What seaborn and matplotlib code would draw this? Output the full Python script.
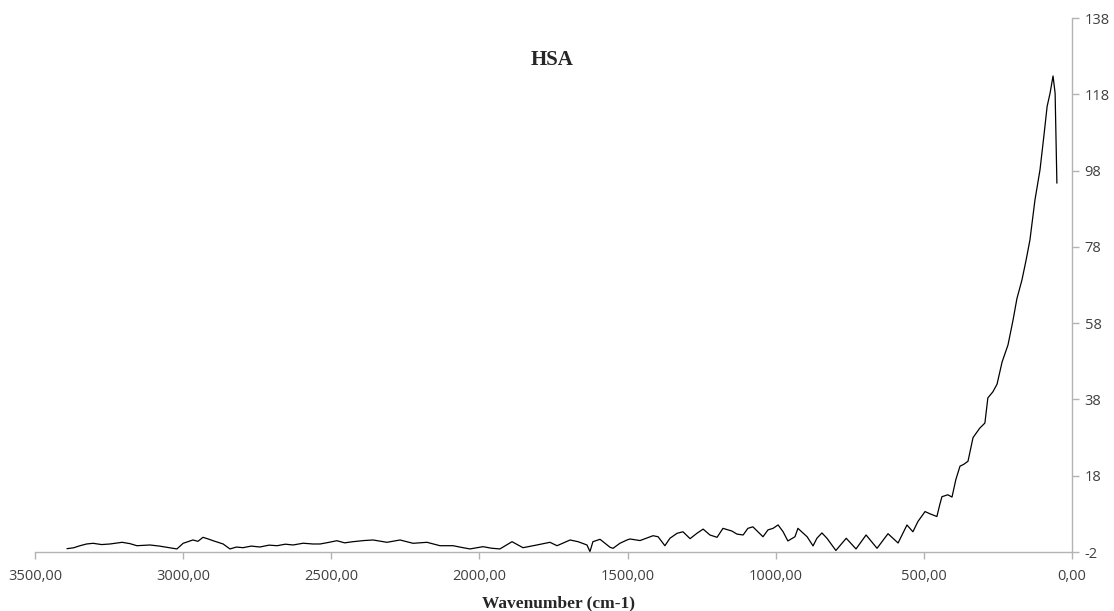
import matplotlib
matplotlib.use("Agg")
import matplotlib.pyplot as plt
import seaborn as sns
import pandas as pd
from matplotlib.ticker import FuncFormatter, FixedLocator

# Data (wavenumber in cm-1, intensity)
wavenumber = [3392, 3370, 3348, 3326, 3304, 3275, 3247, 3206, 3180, 3156, 3112, 3080, 3054, 3021, 3000,
              2967, 2950, 2933, 2915, 2899, 2865, 2842, 2820, 2798, 2770, 2741, 2710, 2683, 2655, 2629, 2595, 2562,
              2538, 2510, 2481, 2455, 2427, 2390, 2359, 2312, 2268, 2224, 2177, 2133, 2089,
              2060, 2032, 1988, 1960, 1931, 1890, 1853, 1806, 1762, 1738,
              1694, 1667, 1637, 1627, 1617, 1593, 1559, 1549, 1526, 1502,
              1492, 1458, 1414, 1397, 1374, 1357, 1333, 1313, 1289, 1266,
              1245, 1222, 1198, 1178, 1148, 1131, 1110, 1094, 1077, 1060,
              1043, 1026, 1009, 992, 975, 959, 935, 925, 894, 874,
              861, 844, 827, 797, 762, 729, 695, 658, 621, 587,
              557, 537, 520, 496, 479, 456, 446, 439, 419, 405, 392, 378,
              365, 351, 334, 311, 294, 284, 267, 253, 236, 216, 199, 186, 169,
              155, 142, 125, 108, 95, 84, 74, 64, 57, 51]
intensity = [-1.13, -0.90, -0.35, 0.10, 0.28, -0.05, 0.10, 0.54, 0.20, -0.35, -0.16, -0.45, -0.77, -1.20, 0.28,
             1.15, 0.80, 1.85, 1.40, 0.96, 0.10, -1.20, -0.70, -0.87, -0.45, -0.69, -0.20, -0.35, 0.05, -0.16, 0.30, 0.10,
             0.10, 0.50, 0.96, 0.40, 0.70, 1.00, 1.15, 0.54, 1.15, 0.28, 0.54, -0.35, -0.35,
             -0.80, -1.20, -0.60, -1.00, -1.20, 0.70, -0.87, -0.16, 0.54, -0.35,
             1.15, 0.70, -0.16, -1.90, 0.70, 1.33, -0.77, -1.03, 0.28, 1.15,
             1.41, 1.00, 2.27, 2.00, -0.35, 1.60, 2.90, 3.30, 1.50, 2.90,
             4.00, 2.46, 1.85, 4.20, 3.50, 2.70, 2.46, 4.20, 4.60, 3.30,
             2.00, 3.80, 4.20, 5.10, 3.30, 0.90, 2.00, 4.20, 2.00, -0.40,
             1.60, 3.00, 1.60, -1.60, 1.60, -1.20, 2.46, -1.03, 2.80, 0.36,
             5.08, 3.30, 6.00, 8.60, 8.00, 7.30, 10.5, 12.5, 13.0, 12.4, 17.0, 20.5,
             21.0, 21.8, 28.0, 30.5, 31.8, 38.4, 40.0, 42.0, 47.8, 52.3, 58.8, 64.4, 69.3,
             74.5, 79.8, 90.3, 98.2, 107.0, 114.8, 118.3, 122.8, 118.3, 94.7]

x_ticks = [3500, 3000, 2500, 2000, 1500, 1000, 500, 0]
y_ticks = [-2, 18, 38, 58, 78, 98, 118, 138]

df = pd.DataFrame({"Wavenumber": wavenumber, "Intensity": intensity})

sns.set_style("white")
plt.rcParams['font.family'] = ['Open Sans', 'DejaVu Sans']

fig = plt.figure(figsize=(11.14, 6.11), dpi=100)
ax = fig.add_axes([35/1114, 1-552/611, (1072-35)/1114, (552-18)/611])

sns.lineplot(data=df, x="Wavenumber", y="Intensity", ax=ax, color="black",
             linewidth=0.9, sort=False, estimator=None)

ax.set_xlim(3500, 0)
ax.set_ylim(-2, 138)
ax.xaxis.set_major_locator(FixedLocator(x_ticks))
ax.yaxis.set_major_locator(FixedLocator(y_ticks))
ax.xaxis.set_major_formatter(FuncFormatter(lambda v, p: f"{v:.2f}".replace(".", ",")))
ax.yaxis.set_major_formatter(FuncFormatter(lambda v, p: f"{int(round(v))}"))

ax.yaxis.tick_right()
ax.yaxis.set_label_position("right")
for s in ["left", "top"]:
    ax.spines[s].set_visible(False)
for s in ["right", "bottom"]:
    ax.spines[s].set_color("#b3b3b3")
    ax.spines[s].set_linewidth(1.0)

ax.tick_params(axis="x", direction="out", length=5, width=1, color="#b3b3b3",
               labelsize=10.5, labelcolor="#404040", pad=7, bottom=True)
ax.tick_params(axis="y", direction="out", length=5, width=1, color="#b3b3b3",
               labelsize=10.5, labelcolor="#404040", pad=4, right=True, left=False)
ax.set_xlabel("")
ax.set_ylabel("")

fig.text(552/1114, 1-60/611, "HSA", ha="center", va="center",
         fontsize=15, fontweight="bold", family="Liberation Serif")
fig.text(558/1114, 1-603/611, "Wavenumber (cm-1)", ha="center", va="center",
         fontsize=12.5, fontweight="bold", family="Liberation Serif")

fig.savefig("out.png", dpi=100, facecolor="white")
